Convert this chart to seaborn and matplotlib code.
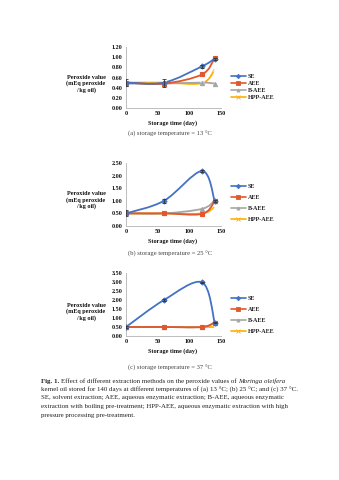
import numpy as np
import pandas as pd
import matplotlib
matplotlib.use("Agg")
import matplotlib.pyplot as plt
import seaborn as sns
from matplotlib.path import Path
from matplotlib.patches import PathPatch
from matplotlib.lines import Line2D

# Storage days and extraction methods
days = [0, 60, 120, 140]
methods = ["SE", "AEE", "B-AEE", "HPP-AEE"]

# Peroxide values (mEq peroxide / kg oil) at 13 °C
se_13 = [0.50, 0.50, 0.82, 0.97]
aee_13 = [0.50, 0.48, 0.66, 0.98]
baee_13 = [0.48, 0.48, 0.50, 0.48]
hpp_13 = [0.50, 0.50, 0.49, 0.76]
se_err_13 = [0.07, 0.08, 0.03, 0.02]

# Peroxide values at 25 °C
se_25 = [0.50, 1.00, 2.18, 1.00]
aee_25 = [0.50, 0.50, 0.48, 0.98]
baee_25 = [0.50, 0.50, 0.68, 1.00]
hpp_25 = [0.50, 0.50, 0.50, 0.75]
se_err_25 = [0.12, 0.08, 0.03, 0.03]

# Peroxide values at 37 °C
se_37 = [0.50, 2.00, 2.98, 0.75]
aee_37 = [0.50, 0.50, 0.50, 0.75]
baee_37 = [0.50, 0.50, 0.50, 0.75]
hpp_37 = [0.50, 0.50, 0.50, 0.50]
se_err_37 = [0.03, 0.08, 0.03, 0.03]

ytick_13 = [0.00, 0.20, 0.40, 0.60, 0.80, 1.00, 1.20]
ytick_25 = [0.00, 0.50, 1.00, 1.50, 2.00, 2.50]
ytick_37 = [0.00, 0.50, 1.00, 1.50, 2.00, 2.50, 3.00, 3.50]
xticks = [0, 50, 100, 150]

colors = {"SE": "#4472C4", "AEE": "#E2572B", "B-AEE": "#A5A5A5", "HPP-AEE": "#FFB000"}
markers = {"SE": "D", "AEE": "s", "B-AEE": "^", "HPP-AEE": "x"}

sns.set_theme(style="white")
plt.rcParams["font.family"] = ["Liberation Serif", "DejaVu Serif"]

fig = plt.figure(figsize=(3.39, 4.80), dpi=100)
fig.patch.set_facecolor("white")

H = 480.0
W = 339.0


def smooth_path(xs, ys):
    """Cubic Bezier path through the points (Catmull-Rom style tangents)."""
    pts = np.column_stack([xs, ys]).astype(float)
    n = len(pts)
    verts = [pts[0]]
    codes = [Path.MOVETO]
    for i in range(n - 1):
        p0 = pts[i - 1] if i > 0 else pts[i]
        p1 = pts[i]
        p2 = pts[i + 1]
        p3 = pts[i + 2] if i + 2 < n else pts[i + 1]
        c1 = p1 + (p2 - p0) / 6.0
        c2 = p2 - (p3 - p1) / 6.0
        verts += [c1, c2, p2]
        codes += [Path.CURVE4] * 3
    return Path(verts, codes)


def panel(top_px, bottom_px, series, err, yticks, ymax, leg_y, leg_sp,
          ylab_y, xlab_y, sub_y, subtitle):
    left_px, right_px = 126, 221
    ax = fig.add_axes([left_px / W, 1 - bottom_px / H,
                       (right_px - left_px) / W, (bottom_px - top_px) / H])
    df = pd.DataFrame({
        "day": days * len(methods),
        "pv": sum(series, []),
        "method": sum([[m] * len(days) for m in methods], []),
    })
    for m in methods[::-1]:
        sub = df[df["method"] == m]
        z = 3 if m == "SE" else 2
        ax.add_patch(PathPatch(smooth_path(sub["day"].values, sub["pv"].values),
                               facecolor="none", edgecolor=colors[m], lw=1.3, zorder=z))
        mk_kw = dict(markeredgecolor=colors[m]) if markers[m] != "x" else {}
        sns.lineplot(data=sub, x="day", y="pv", color=colors[m], marker=markers[m],
                     linewidth=0, markersize=3 if markers[m] != "D" else 2.6,
                     markeredgewidth=0.8, legend=False, ax=ax, zorder=4, **mk_kw)
    ax.errorbar(days, series[0], yerr=err, fmt="none", ecolor="#333333",
                elinewidth=0.6, capsize=1.5, capthick=0.6, zorder=5)
    ax.set_xlim(0, 150)
    ax.set_ylim(0, ymax)
    ax.set_xticks(xticks)
    ax.set_yticks(yticks)
    ax.set_yticklabels([f"{v:.2f}" for v in yticks])
    ax.tick_params(axis="both", labelsize=4.4, length=0, pad=2.5, labelcolor="#111111")
    for lab in ax.get_xticklabels() + ax.get_yticklabels():
        lab.set_fontweight("bold")
    for s in ["top", "right"]:
        ax.spines[s].set_visible(False)
    for s in ["left", "bottom"]:
        ax.spines[s].set_color("#bdbdbd")
        ax.spines[s].set_linewidth(0.7)
    ax.set_xlabel("")
    ax.set_ylabel("")
    ax.patch.set_alpha(0)

    handles = [Line2D([], [], color=colors[m], marker=markers[m], lw=1.2,
                      markersize=2.2, markeredgewidth=0.6) for m in methods]
    fig.legend(handles, methods, loc="center left",
               bbox_to_anchor=(231 / W, 1 - leg_y / H), frameon=False,
               prop={"size": 4.4, "weight": "bold"}, handlelength=2.4,
               handletextpad=0.3, labelspacing=leg_sp, borderpad=0, borderaxespad=0)

    fig.text(86 / W, 1 - ylab_y / H, "Peroxide value\n(mEq peroxide\n/ kg oil)",
             ha="center", va="center", fontsize=4.4, fontweight="bold",
             linespacing=1.2, color="#111111")
    fig.text(173 / W, 1 - xlab_y / H, "Storage time (day)", ha="center", va="center",
             fontsize=4.4, fontweight="bold", color="#111111")
    fig.text(170 / W, 1 - sub_y / H, subtitle, ha="center", va="center",
             fontsize=4.8, color="#444444")
    return ax


panel(47, 108, [se_13, aee_13, baee_13, hpp_13], se_err_13, ytick_13, 1.20,
      87, 0.25, 84, 123, 134, "(a) storage temperature = 13 \u00b0C")
panel(163, 226, [se_25, aee_25, baee_25, hpp_25], se_err_25, ytick_25, 2.50,
      203, 0.9, 200, 241, 254, "(b) storage temperature = 25 \u00b0C")
panel(273, 336, [se_37, aee_37, baee_37, hpp_37], se_err_37, ytick_37, 3.50,
      315, 0.9, 312, 351, 368, "(c) storage temperature = 37 \u00b0C")

# Figure caption
cap_fs = 4.95
cap_x = 41 / W
line_y = [381, 389.5, 398, 406.5, 415]
y0 = 1 - line_y[0] / H
t1 = fig.text(cap_x, y0, "Fig. 1.", fontsize=cap_fs, fontweight="bold",
              va="center", color="#222222")
fig.canvas.draw()
r = fig.canvas.get_renderer()
inv = fig.transFigure.inverted()
bb = t1.get_window_extent(r).transformed(inv)
gap = 1.6 / W
t2 = fig.text(bb.x1 + gap, y0, "Effect of different extraction methods on the peroxide values of",
              fontsize=cap_fs, va="center", color="#222222")
fig.canvas.draw()
bb2 = t2.get_window_extent(r).transformed(inv)
fig.text(bb2.x1 + gap, y0, "Moringa oleifera", fontsize=cap_fs, style="italic",
         va="center", color="#222222")
rest = [
    "kernel oil stored for 140 days at different temperatures of (a) 13 \u00b0C; (b) 25 \u00b0C; and (c) 37 \u00b0C.",
    "SE, solvent extraction; AEE, aqueous enzymatic extraction; B-AEE, aqueous enzymatic",
    "extraction with boiling pre-treatment; HPP-AEE, aqueous enzymatic extraction with high",
    "pressure processing pre-treatment.",
]
for y, txt in zip(line_y[1:], rest):
    fig.text(cap_x, 1 - y / H, txt, fontsize=cap_fs, va="center", color="#222222")

fig.savefig("out.png", dpi=100, facecolor="white")
